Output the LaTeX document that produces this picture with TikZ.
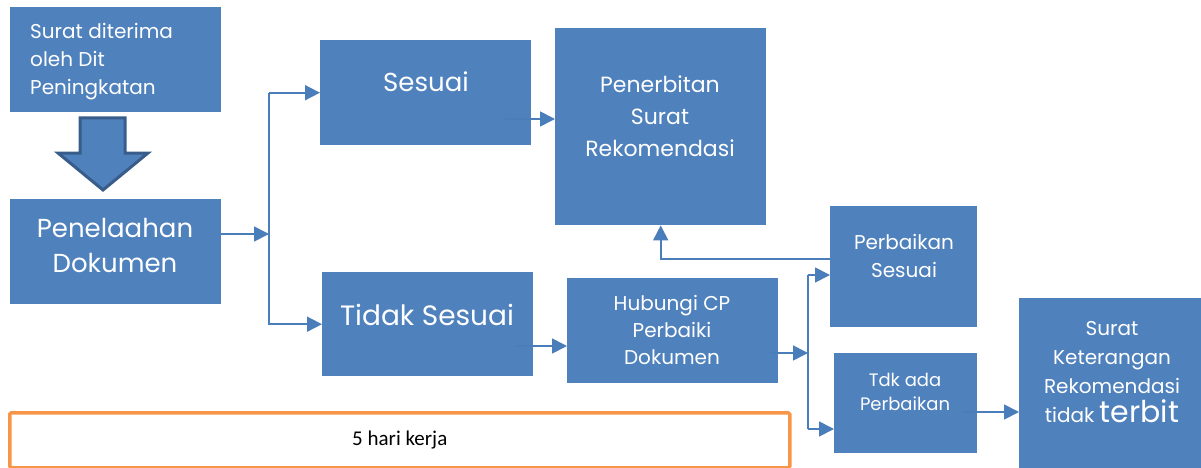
\documentclass[tikz,border=0pt]{standalone}
\usepackage{fontspec}
\setmainfont{Poppins}
\newfontfamily\calibri{Carlito}
\usetikzlibrary{arrows.meta,positioning}
\definecolor{boxblue}{HTML}{4F81BD}
\definecolor{rimblue}{HTML}{385D8A}
\definecolor{lineblue}{HTML}{4A7EBB}
\definecolor{rimorange}{HTML}{F79646}
\begin{document}
\begin{tikzpicture}[x=1pt,y=-1pt,
  blk/.style={fill=boxblue, inner sep=0pt, anchor=north west},
  txt/.style 2 args={text=white, align=center, inner sep=0pt, font=\fontsize{#1}{#2}\selectfont},
  wire/.style={lineblue, line width=1.7pt},
  flow/.style={wire, -{Triangle[length=15pt,width=15pt]}}]
\useasboundingbox (0,0) rectangle (1201,468);
%Boxes
  \node[blk, minimum width=211pt, minimum height=105pt] (surat) at (10,7) {};
  \node[blk, minimum width=211pt, minimum height=105pt] (telaah) at (10,199) {};
  \node[blk, minimum width=211pt, minimum height=105pt] (sesuai) at (320,40) {};
  \node[blk, minimum width=211pt, minimum height=104pt] (tidak) at (322,272) {};
  \node[blk, minimum width=211pt, minimum height=197pt] (terbit) at (555,28) {};
  \node[blk, minimum width=211pt, minimum height=105pt] (hubungi) at (567,278) {};
  \node[blk, minimum width=147pt, minimum height=121pt] (baik) at (830,206) {};
  \node[blk, minimum width=143pt, minimum height=100pt] (tdk) at (834,353) {};
  \node[blk, minimum width=182pt, minimum height=175pt] (ket) at (1019,298) {};
  %Big arrow down
  \filldraw[fill=boxblue, draw=rimblue, line width=3pt, line join=miter]
    (80,118) -- (125,118) -- (125,153) -- (148,153) -- (103,190) -- (58,153) -- (80,153) -- cycle;
  %Texts
  \node[txt={20}{28}, align=left, anchor=west] (suratT) at (30,62) {Surat diterima\\oleh Dit\\Peningkatan};
  \node[txt={26}{35}] (telaahT) at (115,245) {Penelaahan\\Dokumen};
  \node[txt={26}{35}] (sesuaiT) at (426,82) {Sesuai};
  \node[txt={28}{35}] (tidakT) at (427,315) {Tidak Sesuai};
  \node[txt={22}{32}] (terbitT) at (660,116) {Penerbitan\\Surat\\Rekomendasi};
  \node[txt={20}{27}] (hubungiT) at (672,330) {Hubungi CP\\Perbaiki\\Dokumen};
  \node[txt={20}{28}] (baikT) at (904,256) {Perbaikan\\Sesuai};
  \node[txt={18}{24}] (tdkT) at (905,392) {Tdk ada\\Perbaikan};
  \node[txt={20}{29}] (ketT) at (1112,372) {Surat\\Keterangan\\Rekomendasi\\tidak {\fontsize{30}{30}\selectfont terbit}};
  %Time frame
  \node[draw=rimorange, line width=3.5pt, rounded corners=1.5pt, minimum width=780pt, minimum height=55pt,
        anchor=north west, font=\calibri\fontsize{21}{24}\selectfont] (lama) at (8,411) {5 hari kerja};
  %Connectors
  \coordinate (fork1) at (269,234);
  \coordinate (s1) at (505,119);
  \coordinate (t1) at (515,346);
  \coordinate (h1) at (770,353);
  \coordinate (fork2) at (808,353);
  \coordinate (b1) at (808,275);
  \coordinate (b2) at (808,429);
  \coordinate (r1) at (830,259);
  \coordinate (k1) at (962,412);
  \draw[flow] (telaah.east |- fork1) -- (fork1);
  \draw[flow] (fork1 |- sesuai.west) -- (sesuai.west);
  \draw[flow] (fork1 |- sesuai.west) |- (tidak.west);
  \draw[flow] (s1) -- (s1 -| terbit.west);
  \draw[flow] (t1) -- (t1 -| hubungi.west);
  \draw[flow] (h1) -- (fork2);
  \draw[wire] (b1) -- (b2);
  \draw[flow] (b1) -- (b1 -| baik.west);
  \draw[flow] (b2) -- (b2 -| tdk.west);
  \draw[flow] (r1) -| (terbit.south);
  \draw[flow] (k1) -- (k1 -| ket.west);
\end{tikzpicture}
\end{document}
